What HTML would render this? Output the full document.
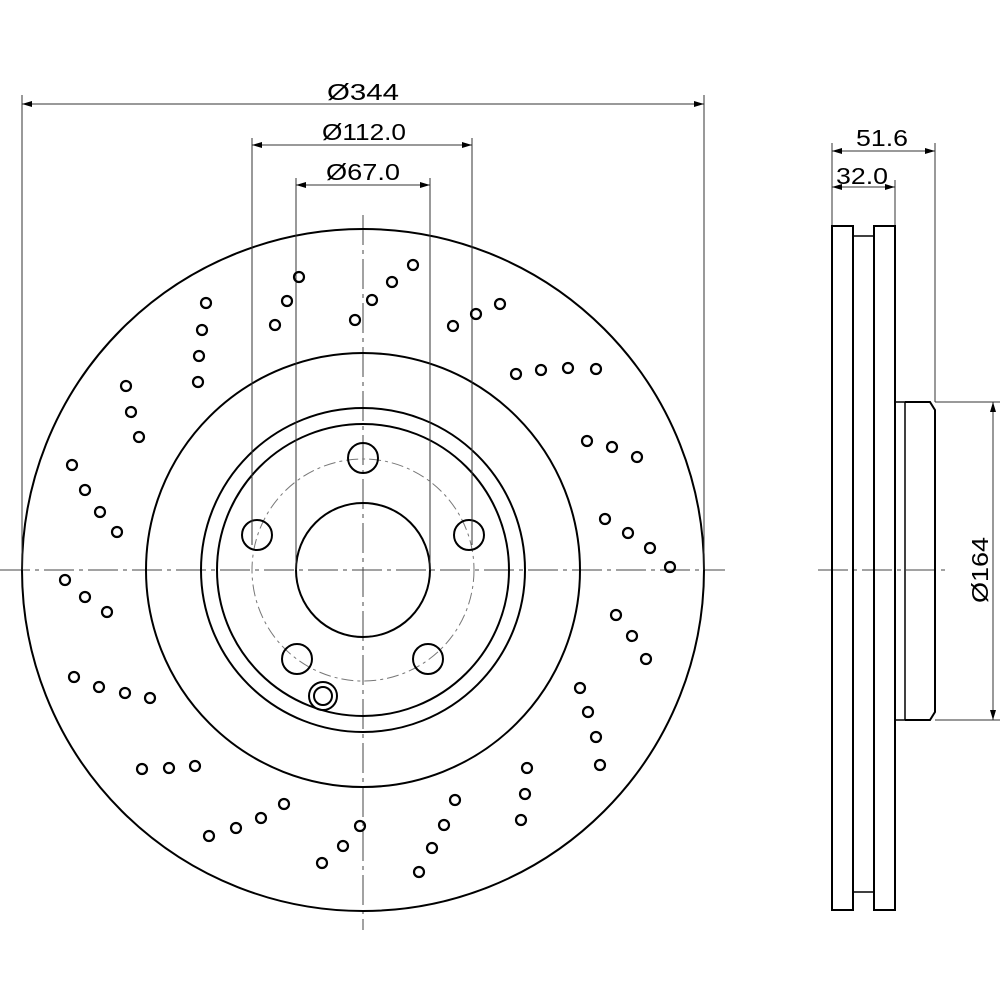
<!DOCTYPE html>
<html><head><meta charset="utf-8"><style>html,body{margin:0;padding:0;background:#fff}svg{display:block}</style></head>
<body>
<svg width="1000" height="1000" viewBox="0 0 1000 1000" xmlns="http://www.w3.org/2000/svg">
<defs>
<marker id="a" viewBox="0 0 10 6" refX="10" refY="3" markerWidth="10" markerHeight="6" orient="auto-start-reverse" markerUnits="userSpaceOnUse"><path d="M0,0 L10,3 L0,6z" fill="#000"/></marker>
</defs>
<g fill="none" stroke="#000">
<!-- centerlines -->
<g stroke-width="1" stroke="#444" stroke-dasharray="30,5,4,5">
<line x1="0" y1="570" x2="725" y2="570"/>
<line x1="363" y1="215" x2="363" y2="930"/>
<line x1="818" y1="570" x2="950" y2="570"/>
</g>
<!-- main circles -->
<circle cx="363" cy="570" r="341" stroke-width="2"/>
<circle cx="363" cy="570" r="217" stroke-width="2"/>
<circle cx="363" cy="570" r="162" stroke-width="2"/>
<circle cx="363" cy="570" r="146" stroke-width="2"/>
<circle cx="363" cy="570" r="67" stroke-width="2"/>
<circle cx="363" cy="570" r="111" stroke-width="1" stroke="#777" stroke-dasharray="12,4,3,4"/>
<g stroke-width="2">
<circle cx="363" cy="458" r="15"/>
<circle cx="469" cy="535" r="15"/>
<circle cx="257" cy="535" r="15"/>
<circle cx="297" cy="659" r="15"/>
<circle cx="428" cy="659" r="15"/>
<circle cx="323" cy="696" r="14"/>
<circle cx="323" cy="696" r="9"/>
</g>
<!-- dimension lines -->
<g stroke-width="1" stroke="#333">
<line x1="22" y1="95" x2="22" y2="570"/>
<line x1="704" y1="95" x2="704" y2="570"/>
<line x1="252" y1="138" x2="252" y2="545"/>
<line x1="472" y1="138" x2="472" y2="545"/>
<line x1="296" y1="178" x2="296" y2="570"/>
<line x1="430" y1="178" x2="430" y2="570"/>
<line x1="22" y1="104" x2="704" y2="104" marker-start="url(#a)" marker-end="url(#a)"/>
<line x1="252" y1="145" x2="472" y2="145" marker-start="url(#a)" marker-end="url(#a)"/>
<line x1="296" y1="185" x2="430" y2="185" marker-start="url(#a)" marker-end="url(#a)"/>
<!-- side dims -->
<line x1="832" y1="143" x2="832" y2="226"/>
<line x1="895" y1="180" x2="895" y2="226"/>
<line x1="935" y1="143" x2="935" y2="402"/>
<line x1="832" y1="151" x2="935" y2="151" marker-start="url(#a)" marker-end="url(#a)"/>
<line x1="832" y1="187" x2="895" y2="187" marker-start="url(#a)" marker-end="url(#a)"/>
<line x1="935" y1="402" x2="1000" y2="402"/>
<line x1="935" y1="720" x2="1000" y2="720"/>
<line x1="993" y1="402" x2="993" y2="720" marker-start="url(#a)" marker-end="url(#a)"/>
</g>
<!-- side view -->
<g stroke-width="2">
<rect x="832" y="226" width="21" height="684"/>
<rect x="874" y="226" width="21" height="684"/>
<line x1="853" y1="236" x2="874" y2="236" stroke-width="1.5"/>
<line x1="853" y1="892" x2="874" y2="892" stroke-width="1.5"/>
<path d="M895,402 H905 V720 H895" stroke-width="1.5"/>
<path d="M905,402 H930 L935,410 V712 L930,720 H905"/>
</g>
<!-- holes -->
<g stroke-width="2.2">
<circle cx="299" cy="277" r="5"/><circle cx="287" cy="301" r="5"/><circle cx="275" cy="325" r="5"/>
<circle cx="413" cy="265" r="5"/><circle cx="392" cy="282" r="5"/><circle cx="372" cy="300" r="5"/><circle cx="355" cy="320" r="5"/>
<circle cx="500" cy="304" r="5"/><circle cx="476" cy="314" r="5"/><circle cx="453" cy="326" r="5"/>
<circle cx="206" cy="303" r="5"/><circle cx="202" cy="330" r="5"/><circle cx="199" cy="356" r="5"/><circle cx="198" cy="382" r="5"/>
<circle cx="126" cy="386" r="5"/><circle cx="131" cy="412" r="5"/><circle cx="139" cy="437" r="5"/>
<circle cx="516" cy="374" r="5"/><circle cx="541" cy="370" r="5"/><circle cx="568" cy="368" r="5"/><circle cx="596" cy="369" r="5"/>
<circle cx="587" cy="441" r="5"/><circle cx="612" cy="447" r="5"/><circle cx="637" cy="457" r="5"/>
<circle cx="72" cy="465" r="5"/><circle cx="85" cy="490" r="5"/><circle cx="100" cy="512" r="5"/><circle cx="117" cy="532" r="5"/>
<circle cx="605" cy="519" r="5"/><circle cx="628" cy="533" r="5"/><circle cx="650" cy="548" r="5"/><circle cx="670" cy="567" r="5"/>
<circle cx="65" cy="580" r="5"/><circle cx="85" cy="597" r="5"/><circle cx="107" cy="612" r="5"/>
<circle cx="616" cy="615" r="5"/><circle cx="632" cy="636" r="5"/><circle cx="646" cy="659" r="5"/>
<circle cx="74" cy="677" r="5"/><circle cx="99" cy="687" r="5"/><circle cx="125" cy="693" r="5"/><circle cx="150" cy="698" r="5"/>
<circle cx="580" cy="688" r="5"/><circle cx="588" cy="712" r="5"/><circle cx="596" cy="737" r="5"/><circle cx="600" cy="765" r="5"/>
<circle cx="142" cy="769" r="5"/><circle cx="169" cy="768" r="5"/><circle cx="195" cy="766" r="5"/>
<circle cx="527" cy="768" r="5"/><circle cx="525" cy="794" r="5"/><circle cx="521" cy="820" r="5"/>
<circle cx="209" cy="836" r="5"/><circle cx="236" cy="828" r="5"/><circle cx="261" cy="818" r="5"/><circle cx="284" cy="804" r="5"/>
<circle cx="455" cy="800" r="5"/><circle cx="444" cy="825" r="5"/><circle cx="432" cy="848" r="5"/><circle cx="419" cy="872" r="5"/>
<circle cx="360" cy="826" r="5"/><circle cx="343" cy="846" r="5"/><circle cx="322" cy="863" r="5"/>
</g>
</g>
<g font-family="Liberation Sans, DejaVu Sans, sans-serif" font-size="23" fill="#000" text-anchor="middle">
<text x="363" y="100" textLength="72" lengthAdjust="spacingAndGlyphs">Ø344</text>
<text x="364" y="140" textLength="84" lengthAdjust="spacingAndGlyphs">Ø112.0</text>
<text x="363" y="180" textLength="74" lengthAdjust="spacingAndGlyphs">Ø67.0</text>
<text x="882" y="146" textLength="52" lengthAdjust="spacingAndGlyphs">51.6</text>
<text x="862" y="184" textLength="52" lengthAdjust="spacingAndGlyphs">32.0</text>
<text transform="translate(988,570) rotate(-90)" textLength="66" lengthAdjust="spacingAndGlyphs">Ø164</text>
</g>
</svg>
</body></html>
